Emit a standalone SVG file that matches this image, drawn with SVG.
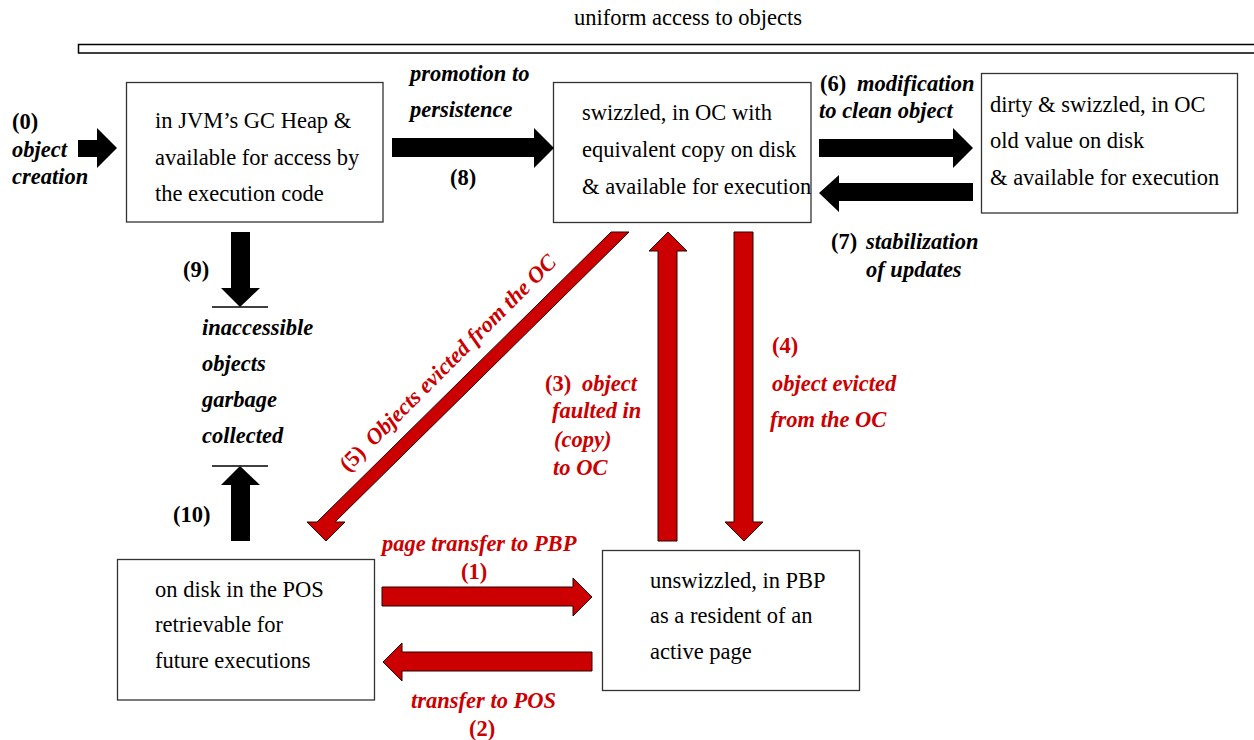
<svg xmlns="http://www.w3.org/2000/svg" width="1254" height="740" viewBox="0 0 1254 740">
  <style>
    .t { font-family: "Liberation Serif", "Times New Roman", serif; font-size: 22.5px; fill: #000; }
    .b { font-weight: bold; }
    .bi { font-weight: bold; font-style: italic; }
    .red { fill: #cc0000; }
    .box { fill: #fff; stroke: #333; stroke-width: 1.3; }
    .ak { fill: #000; }
    .ar { fill: #cc0000; stroke: #2a0000; stroke-width: 1; stroke-linejoin: miter; }
    .bar { stroke: #000; stroke-width: 1.3; }
  </style>

  <rect width="1254" height="740" fill="#fff"/>

  <!-- header band -->
  <g id="header">
    <text class="t" x="688" y="25" text-anchor="middle">uniform access to objects</text>
    <rect x="78.5" y="44.5" width="1200" height="8.5" fill="#fff" stroke="#000" stroke-width="1.5"/>
  </g>

  <!-- states -->
  <g id="heap">
    <rect class="box" x="126.5" y="82.5" width="256.5" height="139.5"/>
    <text class="t" x="155" y="128">in JVM’s GC Heap &amp;</text>
    <text class="t" x="155" y="165">available for access by</text>
    <text class="t" x="155" y="201">the execution code</text>
  </g>

  <g id="oc-clean">
    <rect class="box" x="553.5" y="82.5" width="257.5" height="140"/>
    <text class="t" x="582" y="120">swizzled, in OC with</text>
    <text class="t" x="582" y="157">equivalent copy on disk</text>
    <text class="t" x="582" y="194">&amp; available for execution</text>
  </g>

  <g id="oc-dirty">
    <rect class="box" x="981.5" y="73.5" width="256" height="139.5"/>
    <text class="t" x="990" y="112">dirty &amp; swizzled, in OC</text>
    <text class="t" x="990" y="148">old value on disk</text>
    <text class="t" x="990" y="185">&amp; available for execution</text>
  </g>

  <g id="pos">
    <rect class="box" x="117.5" y="559.5" width="257" height="140.5"/>
    <text class="t" x="155" y="597">on disk in the POS</text>
    <text class="t" x="155" y="632">retrievable for</text>
    <text class="t" x="155" y="668">future executions</text>
  </g>

  <g id="pbp">
    <rect class="box" x="602.5" y="550.5" width="257" height="140"/>
    <text class="t" x="650" y="588">unswizzled, in PBP</text>
    <text class="t" x="650" y="623">as a resident of an</text>
    <text class="t" x="650" y="659">active page</text>
  </g>

  <g id="garbage">
    <line class="bar" x1="212" y1="307" x2="268" y2="307"/>
    <text class="t bi" x="202" y="335">inaccessible</text>
    <text class="t bi" x="202" y="371">objects</text>
    <text class="t bi" x="202" y="407">garbage</text>
    <text class="t bi" x="202" y="443">collected</text>
    <line class="bar" x1="212" y1="466" x2="268" y2="466"/>
  </g>

  <!-- transitions -->
  <g id="connectors">
    <!-- (0) creation -->
    <polygon class="ak" points="78,140 97,140 97,128 117,148 97,168 97,157 78,157"/>
    <!-- (8) promotion -->
    <polygon class="ak" points="392,138 534,138 534,128 554,148 534,168 534,157 392,157"/>
    <!-- (6) modification -->
    <polygon class="ak" points="819,139 953,139 953,128 973,148 953,168 953,157 819,157"/>
    <!-- (7) stabilization -->
    <polygon class="ak" points="973,183 839,183 839,175 819,193 839,212 839,201 973,201"/>
    <!-- (9) garbage collection -->
    <polygon class="ak" points="231,232 250,232 250,288 260,288 240,307 221,288 231,288"/>
    <!-- (10) -->
    <polygon class="ak" points="231,541 250,541 250,485 260,485 240,466 221,485 231,485"/>

    <!-- (1) page transfer to PBP -->
    <polygon class="ar" points="382,587 573,587 573,578 592,597 573,616 573,606 382,606"/>
    <!-- (2) transfer to POS -->
    <polygon class="ar" points="592,652 402,652 402,643 383,662 402,681 402,671 592,671"/>
    <!-- (3) fault in to OC -->
    <polygon class="ar" points="658,541 677,541 677,251 687,251 668,232 649,251 658,251"/>
    <!-- (4) evicted from OC -->
    <polygon class="ar" points="734,232 753,232 753,522 763,522 744,541 725,522 734,522"/>
    <!-- (5) evicted from OC to POS -->
    <polygon class="ar" points="611,232 629,232 335,522 345,522 326,541 307,522 317,522"/>
  </g>

  <!-- transition labels -->
  <g id="labels">
    <text class="t b" x="12" y="129">(0)</text>
    <text class="t bi" x="12" y="157">object</text>
    <text class="t bi" x="12" y="184">creation</text>

    <text class="t bi" x="410" y="81">promotion to</text>
    <text class="t bi" x="410" y="117">persistence</text>
    <text class="t b" x="450" y="185">(8)</text>

    <text class="t" x="820" y="91"><tspan class="b">(6)</tspan><tspan class="bi" x="857">modification</tspan></text>
    <text class="t bi" x="819" y="118">to clean object</text>

    <text class="t" x="831" y="249"><tspan class="b">(7)</tspan><tspan class="bi" x="866">stabilization</tspan></text>
    <text class="t bi" x="866" y="277">of updates</text>

    <text class="t b" x="183" y="277">(9)</text>
    <text class="t b" x="173" y="522">(10)</text>

    <text class="t red" x="545" y="391"><tspan class="b">(3)</tspan><tspan class="bi" x="582">object</tspan></text>
    <text class="t bi red" x="552" y="418">faulted in</text>
    <text class="t bi red" x="554" y="447">(copy)</text>
    <text class="t bi red" x="553" y="475">to OC</text>

    <text class="t b red" x="772" y="353">(4)</text>
    <text class="t bi red" x="772" y="391">object evicted</text>
    <text class="t bi red" x="770" y="427">from the OC</text>

    <text class="t red" x="453" y="368" text-anchor="middle" transform="rotate(-45 453 368)"><tspan class="b">(5)</tspan><tspan class="bi" dx="10">Objects evicted from the OC</tspan></text>

    <text class="t bi red" x="382" y="551">page transfer to PBP</text>
    <text class="t b red" x="461" y="579">(1)</text>
    <text class="t bi red" x="411" y="708">transfer to POS</text>
    <text class="t b red" x="469" y="736">(2)</text>
  </g>
</svg>
